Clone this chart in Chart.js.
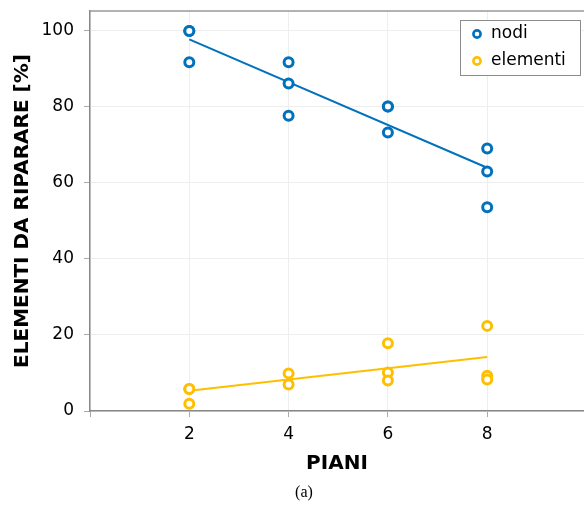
<!DOCTYPE html>
<html>
<head>
<meta charset="utf-8">
<script src="https://cdn.jsdelivr.net/npm/chart.js@4.4.0/dist/chart.umd.min.js"></script>
<style>
  html, body { margin: 0; padding: 0; background: #fff; }
  #wrap { width: 584px; height: 506px; }
</style>
</head>
<body>
<div id="wrap"><canvas id="piani-chart" width="584" height="506"></canvas></div>
<script>
// values
const nodiX = [2, 2, 2, 4, 4, 4, 6, 6, 6, 8, 8, 8];
const nodiY = [100, 100, 91.8, 91.8, 86.2, 77.7, 80.1, 80.1, 73.3, 69.1, 63.0, 53.6];
const elemX = [2, 2, 2, 4, 4, 6, 6, 6, 8, 8, 8];
const elemY = [5.8, 5.8, 1.9, 9.9, 7.0, 17.8, 10.1, 8.0, 22.4, 9.3, 8.3];
const trendX = [2, 8];
const nodiTrend = [97.8, 64.0];
const elemTrend = [5.3, 14.2];
const xTicks = [0, 2, 4, 6, 8];
const yTicks = [0, 20, 40, 60, 80, 100];

const BLUE = '#0072BD';
const YELLOW = '#FFBF00';

function toPoints(xs, ys) {
  return xs.map((x, i) => ({ x: x, y: ys[i] }));
}

Chart.defaults.font.family = '"DejaVu Sans", sans-serif';
Chart.defaults.color = '#000';

// top frame line, boxed legend and the "(a)" caption
const extrasPlugin = {
  id: 'extras',
  afterDraw(chart) {
    const { ctx, chartArea } = chart;
    ctx.save();

    ctx.strokeStyle = '#999';
    ctx.lineWidth = 1.5;
    ctx.beginPath();
    ctx.moveTo(chartArea.left, chartArea.top);
    ctx.lineTo(chartArea.right, chartArea.top);
    ctx.stroke();

    // legend
    const bx = chartArea.right - 124, by = chartArea.top + 9, bw = 120, bh = 55;
    ctx.fillStyle = '#fff';
    ctx.fillRect(bx, by, bw, bh);
    ctx.strokeStyle = '#8c8c8c';
    ctx.lineWidth = 1;
    ctx.strokeRect(bx + 0.5, by + 0.5, bw, bh);

    const items = chart.data.datasets.filter(d => d.inLegend);
    ctx.font = '17px "DejaVu Sans"';
    ctx.textBaseline = 'middle';
    items.forEach((d, i) => {
      const cy = by + 14 + i * 27;
      ctx.beginPath();
      ctx.arc(bx + 17, cy, 3.6, 0, Math.PI * 2);
      ctx.fillStyle = '#fff';
      ctx.fill();
      ctx.lineWidth = 2.6;
      ctx.strokeStyle = d.borderColor;
      ctx.stroke();
      ctx.fillStyle = '#000';
      ctx.textAlign = 'left';
      ctx.fillText(d.label, bx + 31, cy);
    });

    ctx.font = '16px "Liberation Serif"';
    ctx.textAlign = 'center';
    ctx.fillStyle = '#000';
    ctx.fillText('(a)', 304, 493);
    ctx.restore();
  }
};

const ctx = document.getElementById('piani-chart');
new Chart(ctx, {
  type: 'scatter',
  data: {
    datasets: [
      {
        label: 'nodi',
        inLegend: true,
        data: toPoints(nodiX, nodiY),
        borderColor: BLUE,
        backgroundColor: '#fff',
        pointRadius: 4.5,
        pointBorderWidth: 3,
        pointHoverRadius: 4.5
      },
      {
        label: 'elementi',
        inLegend: true,
        data: toPoints(elemX, elemY),
        borderColor: YELLOW,
        backgroundColor: '#fff',
        pointRadius: 4.5,
        pointBorderWidth: 3,
        pointHoverRadius: 4.5
      },
      {
        label: 'fit nodi',
        data: toPoints(trendX, nodiTrend),
        showLine: true,
        borderColor: BLUE,
        borderWidth: 2,
        pointRadius: 0
      },
      {
        label: 'fit elementi',
        data: toPoints(trendX, elemTrend),
        showLine: true,
        borderColor: YELLOW,
        borderWidth: 2,
        pointRadius: 0
      }
    ]
  },
  options: {
    responsive: false,
    animation: false,
    events: [],
    layout: { autoPadding: false, padding: { top: 11, right: 0, bottom: 30, left: 0 } },
    plugins: {
      legend: { display: false },
      tooltip: { enabled: false }
    },
    scales: {
      x: {
        type: 'linear',
        min: 0,
        max: 9.95,
        afterBuildTicks: s => { s.ticks = xTicks.map(v => ({ value: v })); },
        afterFit: s => {
          s.height = 65;
          s.paddingLeft = 0;
          s.paddingRight = 0;
        },
        ticks: {
          font: { size: 17 },
          color: '#000',
          padding: 7,
          maxRotation: 0,
          callback: v => (v === 0 ? '' : v)
        },
        grid: { color: '#eeeeee', tickColor: '#aaa', tickLength: 6 },
        border: { color: '#888', width: 1.5 },
        title: {
          display: true,
          text: 'PIANI',
          font: { size: 20, weight: 'bold' },
          color: '#000',
          padding: { top: 0, bottom: 0 }
        }
      },
      y: {
        min: 0,
        max: 105.26,
        afterBuildTicks: s => { s.ticks = yTicks.map(v => ({ value: v })); },
        afterFit: s => {
          s.width = 90;
          s.paddingTop = 0;
          s.paddingBottom = 0;
        },
        ticks: {
          font: { size: 17 },
          color: '#000',
          padding: 10
        },
        grid: { color: '#eeeeee', tickColor: '#aaa', tickLength: 6 },
        border: { color: '#888', width: 1.5 },
        title: {
          display: true,
          text: 'ELEMENTI DA RIPARARE [%]',
          font: { size: 20, weight: 'bold' },
          color: '#000',
          padding: { top: 11, bottom: 0 }
        }
      }
    }
  },
  plugins: [extrasPlugin]
});
</script>
</body>
</html>
